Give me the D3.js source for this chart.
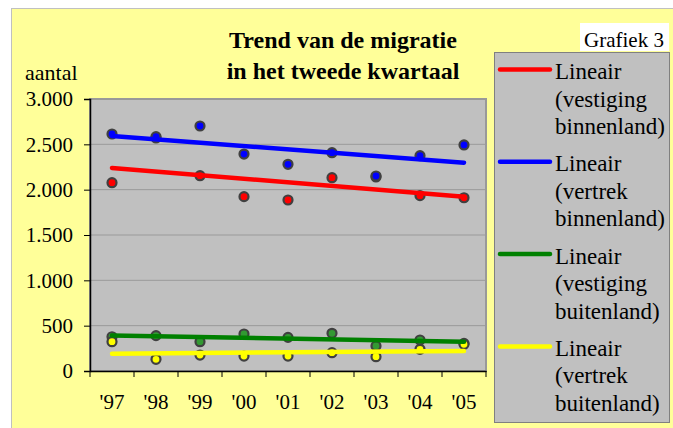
<!DOCTYPE html>
<html>
<head>
<meta charset="utf-8">
<script src="https://cdn.jsdelivr.net/npm/d3@7"></script>
</head>
<body style="margin:0">
<div id="chart"></div>
<script>
const width = 673,
      height = 428;

const serif = "Liberation Serif";

// Data
const years = ["'97", "'98", "'99", "'00", "'01", "'02", "'03", "'04", "'05"];
const vestigingBinnenland = [2077, 2570, 2154, 1923, 1886, 2132, 2140, 1934, 1911];
const vertrekBinnenland   = [2614, 2584, 2702, 2393, 2280, 2408, 2151, 2375, 2493];
const vestigingBuitenland = [378, 390, 323, 408, 371, 416, 276, 342, 305];
const vertrekBuitenland   = [323, 129, 176, 165, 165, 202, 158, 239, 294];

const yTicks = [0, 500, 1000, 1500, 2000, 2500, 3000];
const yTickLabels = ["0", "500", "1.000", "1.500", "2.000", "2.500", "3.000"];

const legendLabels = [
  ["Lineair", "(vestiging", "binnenland)"],
  ["Lineair", "(vertrek", "binnenland)"],
  ["Lineair", "(vestiging", "buitenland)"],
  ["Lineair", "(vertrek", "buitenland)"]
];

const series = [
  { values: vestigingBinnenland, line: "#ff0000", dot: "#ff0000" },
  { values: vertrekBinnenland,   line: "#0000ff", dot: "#0000ff" },
  { values: vestigingBuitenland, line: "#008000", dot: "#339933" },
  { values: vertrekBuitenland,   line: "#ffff00", dot: "#ffff00" }
];

const plot = { left: 90, right: 486, top: 99, bottom: 371 };

const x = d3.scaleBand()
    .domain(years)
    .range([plot.left, plot.right]);

const y = d3.scaleLinear()
    .domain([0, 3000])
    .range([plot.bottom, plot.top]);

const svg = d3.select("#chart")
  .append("svg")
    .attr("width", width)
    .attr("height", height)
    .style("display", "block");

// chart area
svg.append("rect")
    .attr("x", 11.5)
    .attr("y", 8.5)
    .attr("width", width)
    .attr("height", height)
    .attr("fill", "#ffff99")
    .attr("stroke", "#c0c0c0");

// plot area
svg.append("rect")
    .attr("x", plot.left)
    .attr("y", plot.top)
    .attr("width", plot.right - plot.left)
    .attr("height", plot.bottom - plot.top)
    .attr("fill", "#c0c0c0")
    .attr("stroke", "#999")
    .attr("stroke-width", 2);

// gridlines
svg.append("g")
  .selectAll("line")
  .data(yTicks.slice(1))
  .enter()
  .append("line")
    .attr("x1", plot.left)
    .attr("x2", plot.right)
    .attr("y1", d => y(d))
    .attr("y2", d => y(d))
    .attr("stroke", "#9a9a9a")
    .attr("stroke-width", 1);

// y axis
const yAxis = svg.append("g")
    .attr("transform", `translate(${plot.left},0)`)
    .call(d3.axisLeft(y)
        .tickValues(yTicks)
        .tickSize(6)
        .tickPadding(11)
        .tickFormat((d, i) => yTickLabels[i]));
yAxis.select(".domain").attr("stroke", "#000").attr("stroke-width", 1.5);
yAxis.selectAll("text").attr("fill", "#000").attr("font-size", 21);

// x axis
const xAxis = svg.append("g")
    .attr("transform", `translate(0,${plot.bottom})`)
    .call(d3.axisBottom(x).tickSize(0).tickPadding(23));
xAxis.select(".domain").attr("stroke", "#000").attr("stroke-width", 1.5);
xAxis.selectAll("text").attr("fill", "#000").attr("font-size", 21);

// ticks between categories
xAxis.selectAll(".cat-tick")
  .data(years.map(d => x(d)).concat([x.range()[1]]))
  .enter()
  .append("line")
    .attr("class", "cat-tick")
    .attr("x1", d => d)
    .attr("x2", d => d)
    .attr("y1", 0)
    .attr("y2", 6)
    .attr("stroke", "#000");

// axis title
svg.append("text")
    .attr("x", 25)
    .attr("y", 80)
    .attr("font-size", 22)
    .text("aantal");

// chart title
const title = svg.append("text")
    .attr("text-anchor", "middle")
    .attr("font-size", 24)
    .attr("font-weight", "bold");
title.append("tspan").attr("x", 343).attr("y", 48).text("Trend van de migratie");
title.append("tspan").attr("x", 343).attr("y", 79).text("in het tweede kwartaal");

// Grafiek 3 label
svg.append("rect")
    .attr("x", 580)
    .attr("y", 23)
    .attr("width", 89)
    .attr("height", 28)
    .attr("fill", "#fff");
svg.append("text")
    .attr("x", 624)
    .attr("y", 47)
    .attr("text-anchor", "middle")
    .attr("font-size", 21)
    .text("Grafiek 3");

const cx = d => x(d) + x.bandwidth() / 2;

// markers
series.forEach(s => {
  svg.append("g")
    .selectAll("circle")
    .data(s.values)
    .enter()
    .append("circle")
      .attr("cx", (d, i) => cx(years[i]))
      .attr("cy", d => y(d))
      .attr("r", 4.5)
      .attr("fill", s.dot)
      .attr("stroke", "#404040")
      .attr("stroke-width", 2.2);
});

// linear trend lines (least squares)
series.forEach(s => {
  const n = s.values.length;
  const xs = d3.range(1, n + 1);
  const mx = d3.mean(xs), my = d3.mean(s.values);
  const slope = d3.sum(xs, (v, i) => (v - mx) * (s.values[i] - my)) /
                d3.sum(xs, v => (v - mx) * (v - mx));
  const icpt = my - slope * mx;
  const ends = [0, n - 1].map(i => ({ year: years[i], v: icpt + slope * xs[i] }));
  svg.append("path")
      .datum(ends)
      .attr("fill", "none")
      .attr("stroke", s.line)
      .attr("stroke-width", 4.5)
      .attr("stroke-linecap", "round")
      .attr("d", d3.line()
          .x(d => cx(d.year))
          .y(d => y(d.v)));
});

// legend
const legend = svg.append("g");
legend.append("rect")
    .attr("x", 494.5)
    .attr("y", 52.5)
    .attr("width", 175)
    .attr("height", 370)
    .attr("fill", "#c0c0c0")
    .attr("stroke", "#808080");

const entry = legend.selectAll(".entry")
  .data(series)
  .enter()
  .append("g")
    .attr("class", "entry")
    .attr("transform", (d, i) => `translate(0,${69.5 + i * 92.3})`);

entry.append("line")
    .attr("x1", 500)
    .attr("x2", 550)
    .attr("y1", 0)
    .attr("y2", 0)
    .attr("stroke", d => d.line)
    .attr("stroke-width", 4.5)
    .attr("stroke-linecap", "round");

entry.append("text")
    .attr("font-size", 23)
    .each(function(d, i) {
      d3.select(this).selectAll("tspan")
        .data(legendLabels[i])
        .enter()
        .append("tspan")
          .attr("x", 555)
          .attr("y", (t, j) => 9.5 + j * 27.5)
          .text(t => t);
    });

// serif everywhere, set on each text element
svg.selectAll("text").attr("font-family", serif);
</script>
</body>
</html>
